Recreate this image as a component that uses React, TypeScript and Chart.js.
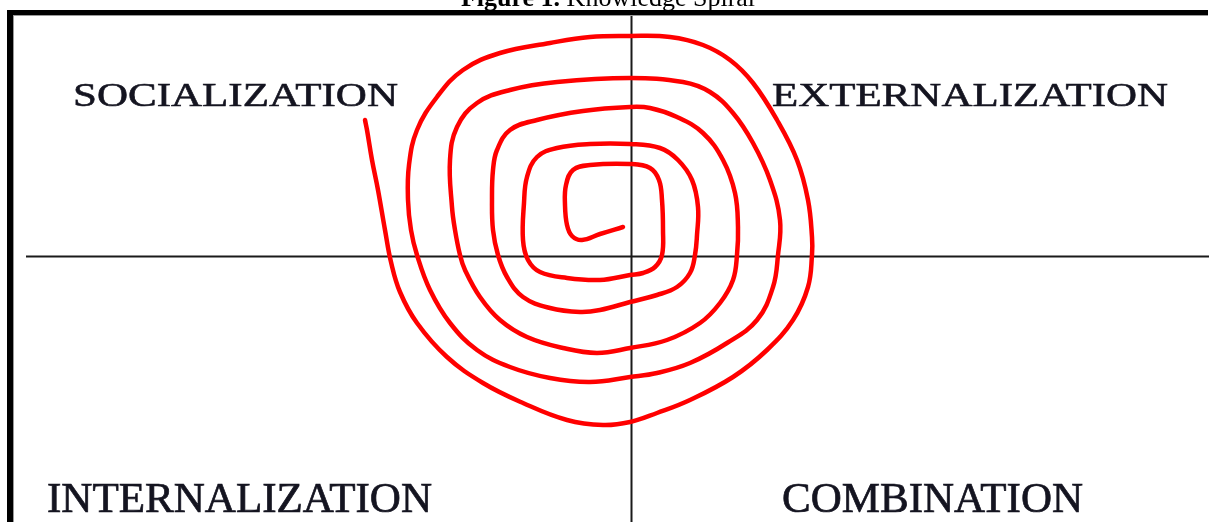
import React, { useEffect, useRef } from "react";
import { Chart, registerables } from "chart.js";

Chart.register(...registerables);

// Spiral path (offsets from the cross centre, y up)
const spiralX = [
  -8, -31, -49, -59, -64, -66, -65, -58, -41, -1, 19, 28, 31, 32, 31, 24, 12, -1, -31, -64, -91, -103,
  -108, -107, -104, -94, -74, -41, -1, 29, 47, 61, 67, 66, 64, 59, 46, 26, -1, -31, -51, -81, -108, -124,
  -133, -138, -139, -138, -134, -121, -94, -48, -1, 19, 46, 72, 92, 104, 107, 106, 102, 89, 69, 36, -1,
  -34, -68, -104, -131, -151, -166, -171, -176, -179, -181, -174, -154, -121, -74, -1, 52, 79, 102, 122,
  139, 149, 147, 142, 126, 96, 59, 26, -1, -41, -81, -121, -154, -181, -201, -214, -220, -223, -222, -214,
  -194, -168, -131, -81, -41, -1, 39, 72, 99, 122, 146, 166, 177, 181, 181, 177, 162, 136, 102, 59, 26, -1,
  -28, -64, -108, -148, -184, -214, -231, -240, -246, -253, -259, -264, -266,
];
const spiralY = [
  29, 22, 16, 20, 31, 51, 71, 86, 91, 92, 88, 76, 56, 26, 1, -11, -17, -19, -24, -22, -16, -4,
  16, 53, 79, 99, 108, 112, 112, 108, 96, 76, 49, 21, 1, -17, -31, -39, -46, -54, -56, -52, -41, -21,
  1, 26, 56, 86, 106, 126, 136, 145, 149, 148, 139, 123, 96, 63, 29, 1, -24, -47, -67, -84, -92,
  -97, -92, -81, -64, -41, -14, 1, 26, 49, 96, 129, 153, 166, 174, 178, 174, 164, 143, 113,
  76, 36, 1, -31, -64, -87, -107, -117, -121, -126, -122, -111, -94, -67, -34, 1, 26, 56, 91, 126,
  159, 186, 203, 213, 219, 220, 219, 211, 196, 173, 136, 96, 56, 19, 1, -31, -64, -94, -121, -144, -157, -166,
  -169, -164, -147, -127, -101, -67, -36, -6, 26, 66, 96, 126, 136,
];

const quadrantLabels = ["SOCIALIZATION", "EXTERNALIZATION", "INTERNALIZATION", "COMBINATION"];
const titleBold = "Figure 1.";
const titleRest = " Knowledge Spiral";

const xMin = -631;
const xMax = 583;
const yMin = -266;
const yMax = 256;

export default function App() {
  const ref = useRef<HTMLCanvasElement | null>(null);

  useEffect(() => {
    document.body.style.margin = "0";
    const canvas = ref.current;
    if (!canvas) return;

    const decor = {
      id: "decor",
      beforeDatasetsDraw(chart: any) {
        const ctx = chart.ctx as CanvasRenderingContext2D;
        const xs = chart.scales.x;
        const ys = chart.scales.y;
        const cx = Math.round(xs.getPixelForValue(0)) + 0.5;
        const cy = Math.round(ys.getPixelForValue(0)) + 0.5;
        ctx.save();
        ctx.fillStyle = "#ffffff";
        ctx.fillRect(0, 0, chart.width, chart.height);

        // cross lines
        ctx.strokeStyle = "#1a1a1a";
        ctx.lineWidth = 2;
        ctx.beginPath();
        ctx.moveTo(26, cy);
        ctx.lineTo(1209, cy);
        ctx.moveTo(cx, 14);
        ctx.lineTo(cx, chart.height);
        ctx.stroke();

        // frame: thick top and left border
        ctx.fillStyle = "#000000";
        ctx.fillRect(7, 10, 1201, 5);
        ctx.fillRect(7, 10, 6, chart.height - 10);
        ctx.fillStyle = "#9a9a9a";
        ctx.fillRect(13, 15, 1195, 1);
        ctx.fillRect(13, 15, 1, chart.height - 15);

        // title (cut at top)
        ctx.fillStyle = "#000000";
        ctx.textBaseline = "alphabetic";
        ctx.font = "bold 26px 'Liberation Serif'";
        const wb = ctx.measureText(titleBold).width;
        ctx.font = "26px 'Liberation Serif'";
        const wr = ctx.measureText(titleRest).width;
        const tx = 608 - (wb + wr) / 2;
        ctx.font = "bold 26px 'Liberation Serif'";
        ctx.fillText(titleBold, tx, 6);
        ctx.font = "26px 'Liberation Serif'";
        ctx.fillText(titleRest, tx + wb, 6);

        // quadrant labels
        const place = (text: string, left: number, right: number, base: number, cap: number) => {
          const fs = 42;
          ctx.font = `${fs}px 'Liberation Serif'`;
          const w = ctx.measureText(text).width;
          const sx = (right - left) / w;
          const sy = cap / (fs * 0.662);
          ctx.save();
          ctx.translate(left, base);
          ctx.scale(sx, sy);
          ctx.fillStyle = "#141420";
          ctx.strokeStyle = "#141420";
          ctx.lineWidth = 0.7;
          ctx.fillText(text, 0, 0);
          ctx.strokeText(text, 0, 0);
          ctx.restore();
        };
        place(quadrantLabels[0], 73, 398, 106, 23);
        place(quadrantLabels[1], 772, 1168, 106, 23);
        place(quadrantLabels[2], 47, 432, 512, 28);
        place(quadrantLabels[3], 782, 1083, 512, 28);
        ctx.restore();
      },
    };

    const chart = new Chart(canvas, {
      type: "line",
      data: {
        datasets: [
          {
            data: spiralX.map((x, i) => ({ x, y: spiralY[i] })),
            borderColor: "#ff0000",
            borderWidth: 4.5,
            pointRadius: 0,
            tension: 0.4,
            fill: false,
            borderCapStyle: "round",
            borderJoinStyle: "round",
          },
        ],
      },
      options: {
        animation: false,
        responsive: false,
        maintainAspectRatio: false,
        layout: { padding: 0 },
        plugins: { legend: { display: false }, tooltip: { enabled: false }, title: { display: false } },
        scales: {
          x: { type: "linear", min: xMin, max: xMax, display: false },
          y: { type: "linear", min: yMin, max: yMax, display: false },
        },
      },
      plugins: [decor],
    });
    return () => chart.destroy();
  }, []);

  return <canvas ref={ref} width={1214} height={522} style={{ display: "block" }} />;
}
